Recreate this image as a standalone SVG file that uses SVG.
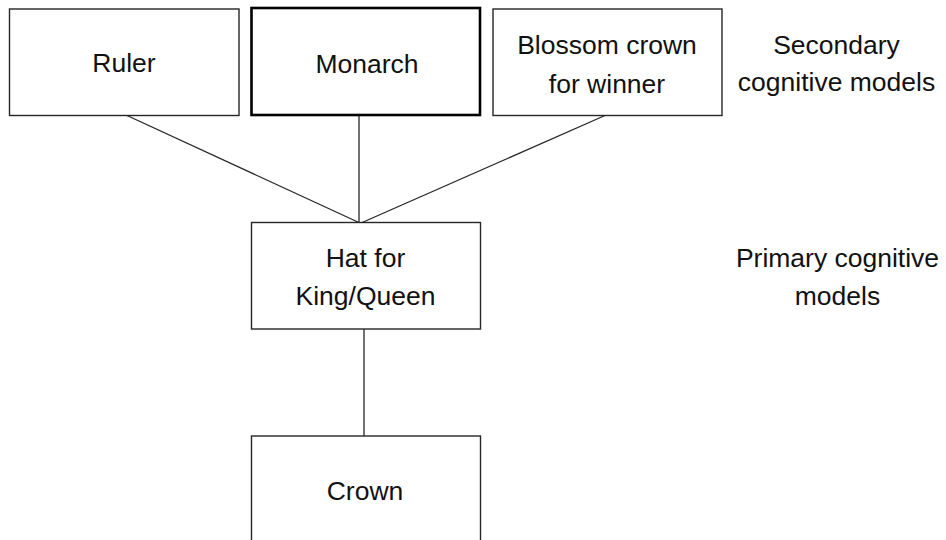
<svg xmlns="http://www.w3.org/2000/svg" width="946" height="540" viewBox="0 0 946 540">
<style>
.box{fill:#fff;stroke:#262626;stroke-width:1.4}
.bold{stroke:#000;stroke-width:2.6}
.t{font-family:"Liberation Sans",Arial,sans-serif;font-size:26.5px;fill:#111;text-anchor:middle}
.c{stroke:#262626;stroke-width:1.3;fill:none}
</style>
<rect width="946" height="540" fill="#fff"/>
<g id="connectors">
<line class="c" x1="127" y1="115.5" x2="360" y2="223"/>
<line class="c" x1="359" y1="115" x2="359" y2="223"/>
<line class="c" x1="605" y1="115.5" x2="361" y2="223"/>
<line class="c" x1="364" y1="329" x2="364" y2="436"/>
</g>
<g id="ruler">
<rect class="box" x="9.5" y="9" width="229.5" height="106.5"/>
<text class="t" x="124" y="72">Ruler</text>
</g>
<g id="monarch">
<rect class="box bold" x="251.5" y="8" width="228.5" height="107"/>
<text class="t" x="367" y="72.5">Monarch</text>
</g>
<g id="blossom">
<rect class="box" x="493" y="9" width="229" height="106.5"/>
<text class="t" x="607" y="54">Blossom crown</text>
<text class="t" x="607" y="92.5">for winner</text>
</g>
<g id="secondary-label">
<text class="t" x="836.5" y="53.5">Secondary</text>
<text class="t" x="836.5" y="91">cognitive models</text>
</g>
<g id="hat">
<rect class="box" x="251.5" y="222.5" width="229" height="106.5"/>
<text class="t" x="365.5" y="266.5">Hat for</text>
<text class="t" x="365.5" y="304.5">King/Queen</text>
</g>
<g id="primary-label">
<text class="t" x="837.5" y="266.5">Primary cognitive</text>
<text class="t" x="837.5" y="305">models</text>
</g>
<g id="crown">
<rect class="box" x="251.5" y="436" width="229" height="110"/>
<text class="t" x="365" y="500">Crown</text>
</g>
</svg>
